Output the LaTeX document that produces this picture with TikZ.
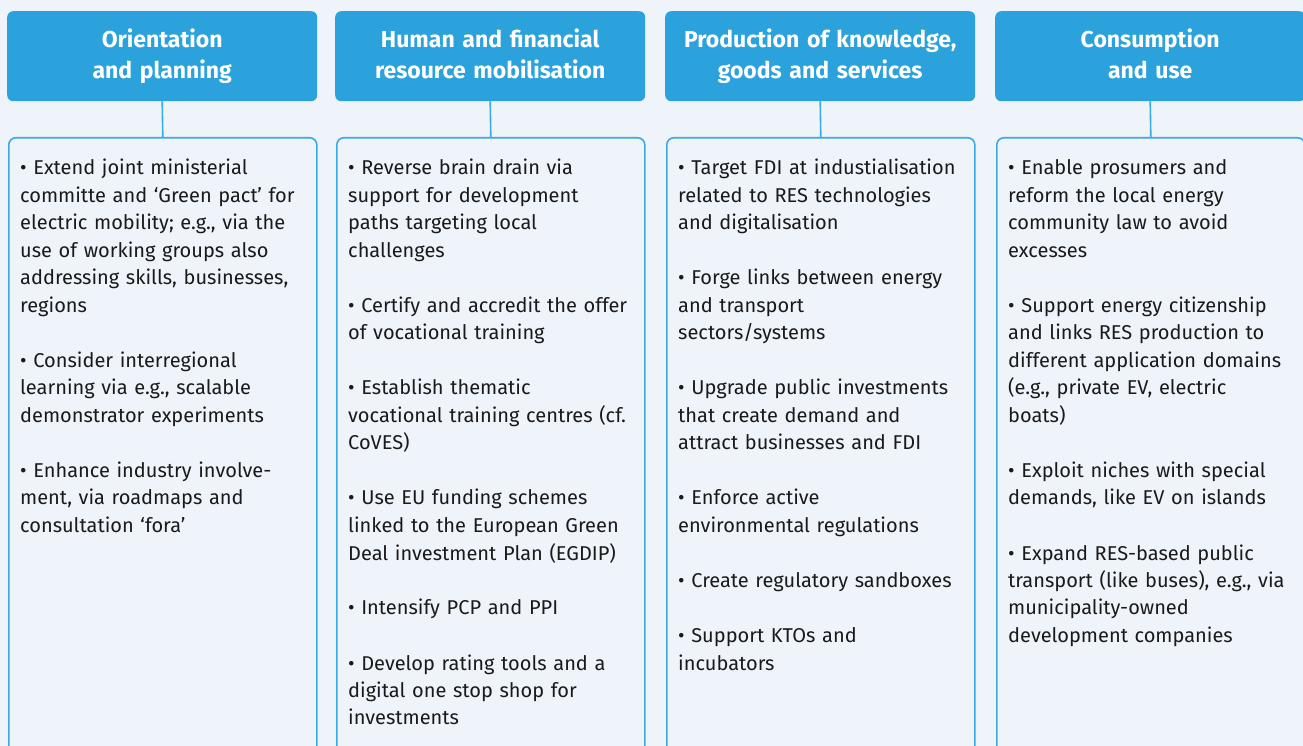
\documentclass[tikz,border=0pt]{standalone}
\usepackage{fontspec}
\setmainfont{Fira Sans}
\definecolor{bgc}{HTML}{EFF3FA}
\definecolor{headc}{HTML}{2BA2DB}
\definecolor{linec}{HTML}{3AAAE2}
\definecolor{txtc}{HTML}{1A1A1A}
\tikzset{
  headbox/.style={fill=headc, rounded corners=6pt, minimum width=310pt, minimum height=90pt,
    anchor=north west, inner sep=0pt},
  headtext/.style={text=white, align=center, text width=300pt, inner sep=0pt, anchor=base,
    font=\bfseries\fontsize{23}{30.5}\selectfont},
  bodybox/.style={draw=linec, line width=1.6pt, fill=bgc, rounded corners=7pt,
    minimum width=308pt, minimum height=700pt, anchor=north west, inner sep=0pt},
  conn/.style={draw=linec, line width=1.6pt},
  bodytext/.style={anchor=base west, text width=300pt, align=left, inner sep=0pt,
    text=txtc, font=\fontsize{20}{27.5}\selectfont}
}
\begin{document}
\begin{tikzpicture}[x=1pt,y=-1pt]
\fill[bgc] (0,0) rectangle (1303,746);
\useasboundingbox (0,0) rectangle (1303,746);
\clip (0,0) rectangle (1303,746);
% headers
\node[headbox] (h1) at (7,11) {};
\node[headbox] (h2) at (335,11) {};
\node[headbox] (h3) at (665,11) {};
\node[headbox] (h4) at (995,11) {};
\node[headtext] (l1) at (h1.center |- 0,48) {Orientation\\and planning};
\node[headtext] (l2) at (h2.center |- 0,48) {Human and financial\\resource mobilisation};
\node[headtext] (l3) at (h3.center |- 0,48) {Production of knowledge,\\goods and services};
\node[headtext] (l4) at (h4.center |- 0,48) {Consumption\\and use};
% bodies
\node[bodybox] (b1) at (8,137) {};
\node[bodybox] (b2) at (336,137) {};
\node[bodybox] (b3) at (666,137) {};
\node[bodybox] (b4) at (996,137) {};
% connectors
\draw[conn] (h1.south) -- (b1.north);
\draw[conn] (h2.south) -- (b2.north);
\draw[conn] (h3.south) -- (b3.north);
\draw[conn] (h4.south) -- (b4.north);
% texts
\node[bodytext] (t1) at (20,175) {%
• Extend joint ministerial\\
committe and ‘Green pact’ for\\
electric mobility; e.g., via the\\
use of working groups also\\
addressing skills, businesses,\\
regions\\[27.5pt]
• Consider interregional\\
learning via e.g., scalable\\
demonstrator experiments\\[27.5pt]
• Enhance industry involve-\\
ment, via roadmaps and\\
consultation ‘fora’};
\node[bodytext] (t2) at (348,175) {%
• Reverse brain drain via\\
support for development\\
paths targeting local\\
challenges\\[27.5pt]
• Certify and accredit the offer\\
of vocational training\\[27.5pt]
• Establish thematic\\
vocational training centres (cf.\\
CoVES)\\[27.5pt]
• Use EU funding schemes\\
linked to the European Green\\
Deal investment Plan (EGDIP)\\[27.5pt]
• Intensify PCP and PPI\\[27.5pt]
• Develop rating tools and a\\
digital one stop shop for\\
investments};
\node[bodytext] (t3) at (678,175) {%
• Target FDI at industialisation\\
related to RES technologies\\
and digitalisation\\[27.5pt]
• Forge links between energy\\
and transport\\
sectors/systems\\[27.5pt]
• Upgrade public investments\\
that create demand and\\
attract businesses and FDI\\[27.5pt]
• Enforce active\\
environmental regulations\\[27.5pt]
• Create regulatory sandboxes\\[27.5pt]
• Support KTOs and\\
incubators};
\node[bodytext] (t4) at (1008,175) {%
• Enable prosumers and\\
reform the local energy\\
community law to avoid\\
excesses\\[27.5pt]
• Support energy citizenship\\
and links RES production to\\
different application domains\\
(e.g., private EV, electric\\
boats)\\[27.5pt]
• Exploit niches with special\\
demands, like EV on islands\\[27.5pt]
• Expand RES-based public\\
transport (like buses), e.g., via\\
municipality-owned\\
development companies};
\end{tikzpicture}
\end{document}
